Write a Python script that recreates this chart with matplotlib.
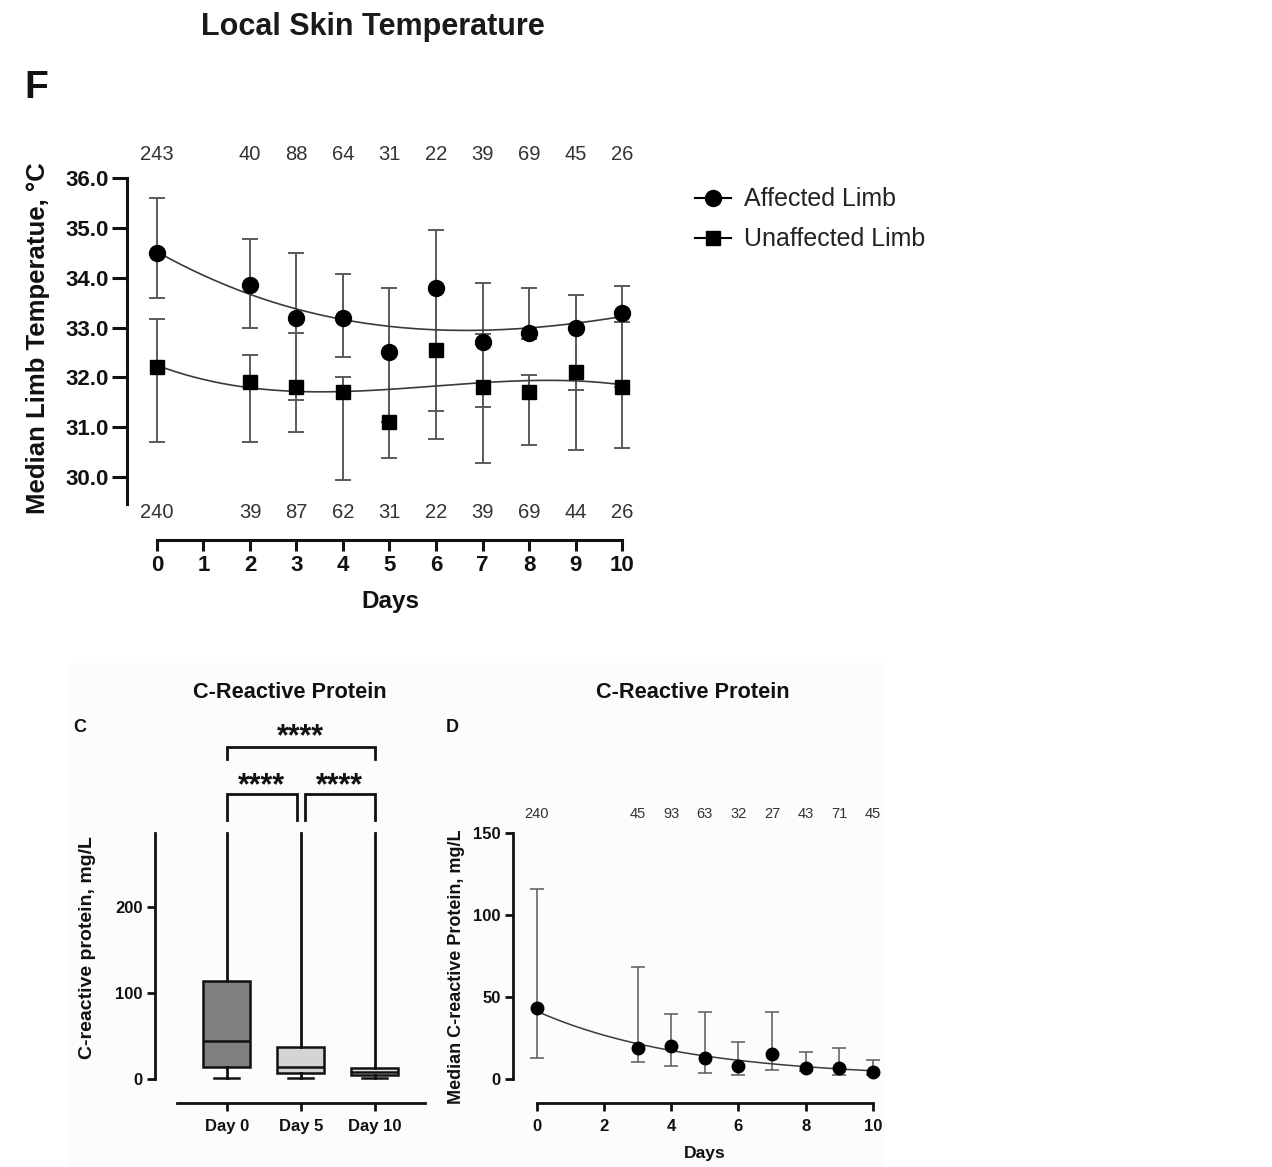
import matplotlib.pyplot as plt
import numpy as np
from matplotlib.lines import Line2D
from matplotlib.patches import Rectangle

plt.rcParams['font.family'] = ['Liberation Sans', 'DejaVu Sans']

# ---- local skin temperature (panel F) ----
temp_days = [0, 2, 3, 4, 5, 6, 7, 8, 9, 10]
affected_med = [34.5, 33.85, 33.2, 33.2, 32.5, 33.8, 32.7, 32.9, 33.0, 33.3]
affected_lo = [33.6, 33.0, 31.55, 32.4, 31.1, 31.32, 31.4, 32.76, 31.74, 31.8]
affected_hi = [35.6, 34.79, 34.49, 34.08, 33.8, 34.96, 33.9, 33.8, 33.65, 33.84]
unaffected_med = [32.2, 31.9, 31.8, 31.7, 31.1, 32.55, 31.8, 31.7, 32.1, 31.8]
unaffected_lo = [30.7, 30.7, 30.9, 29.93, 30.38, 30.77, 30.28, 30.64, 30.53, 30.57]
unaffected_hi = [33.17, 32.45, 32.9, 32.01, 32.5, 33.8, 32.88, 32.04, 33.0, 33.12]
n_affected = ['243', '40', '88', '64', '31', '22', '39', '69', '45', '26']
n_unaffected = ['240', '39', '87', '62', '31', '22', '39', '69', '44', '26']

# ---- CRP box plot (panel C) ----
crp_groups = ['Day 0', 'Day 5', 'Day 10']
crp_min = [1, 1, 1]
crp_q1 = [14, 7, 4.5]
crp_median = [44, 14, 8.5]
crp_q3 = [114, 37, 13]
crp_max = [285, 285, 285]
crp_fill = ['#808080', '#d4d4d4', '#e6e6e6']

# ---- CRP median over time (panel D) ----
crp_days = [0, 3, 4, 5, 6, 7, 8, 9, 10]
crp_med = [43.5, 19.0, 20.5, 13.0, 8.0, 15.5, 7.0, 7.0, 4.5]
crp_lo = [13.0, 10.5, 8.2, 3.8, 2.3, 5.8, 5.0, 2.7, 2.5]
crp_hi = [115.9, 68.3, 39.8, 40.9, 22.6, 40.9, 16.5, 18.9, 11.8]
crp_n = ['240', '45', '93', '63', '32', '27', '43', '71', '45']

W, H = 1272, 1167
fig = plt.figure(figsize=(W / 100, H / 100), dpi=100)


def px_axes(left, top, right, bottom):
    return fig.add_axes([left / W, 1 - bottom / H, (right - left) / W, (bottom - top) / H])


def fig_xy(x, y):
    return x / W, 1 - y / H


# faint panel background behind C and D
fig.patches.append(Rectangle(fig_xy(68, 1167), (885 - 68) / W, (1167 - 663) / H,
                             transform=fig.transFigure, facecolor='#fcfcfc',
                             edgecolor='none', zorder=-10))

ink = '#111111'
bar_col = '#5a5a5a'

# ================= panel F =================
ax = px_axes(127, 178.3, 640, 540)
ax.set_xlim(-0.645, 10.387)
ax.set_ylim(28.73, 36.0)

xs = np.linspace(0, 10, 200)
for med, lo, hi, mk, ms in [(affected_med, affected_lo, affected_hi, 'o', 11.5),
                            (unaffected_med, unaffected_lo, unaffected_hi, 's', 10.5)]:
    med = np.array(med)
    yerr = [med - np.array(lo), np.array(hi) - med]
    ax.errorbar(temp_days, med, yerr=yerr, fmt='none', ecolor=bar_col, elinewidth=1.4,
                capsize=5.5, capthick=1.4, zorder=2, clip_on=False)
    fit = np.polyfit(temp_days, med, 3)
    ax.plot(xs, np.polyval(fit, xs), color='#3a3a3a', lw=1.2, zorder=3)
    ax.plot(temp_days, med, linestyle='none', marker=mk, markersize=ms, color='black', zorder=4,
            clip_on=False)

for d, a, u in zip(temp_days, n_affected, n_unaffected):
    ax.text(d, 36.47, a, ha='center', va='center', fontsize=14.5, color='#333333', clip_on=False)
    ax.text(d, 29.28, u, ha='center', va='center', fontsize=14.5, color='#333333', clip_on=False)

for s in ['top', 'right']:
    ax.spines[s].set_visible(False)
ax.spines['left'].set_bounds(29.45, 36.0)
ax.spines['bottom'].set_bounds(0, 10)
for s in ['left', 'bottom']:
    ax.spines[s].set_linewidth(2.2)
    ax.spines[s].set_color(ink)
ax.set_yticks([30, 31, 32, 33, 34, 35, 36])
ax.set_yticklabels([f'{v:.1f}' for v in [30, 31, 32, 33, 34, 35, 36]])
ax.set_xticks(range(11))
ax.tick_params(width=2.2, color=ink, labelsize=16, labelcolor=ink)
ax.tick_params(axis='y', length=11, pad=2)
ax.tick_params(axis='x', length=8, pad=3)
for lab in ax.get_xticklabels() + ax.get_yticklabels():
    lab.set_fontweight('bold')
ax.set_xlabel('Days', fontsize=17.5, fontweight='bold', color=ink)
ax.xaxis.set_label_coords((390 - 127) / 513, (540 - 590) / 361.7)
ax.set_ylabel('Median Limb Temperatue, °C', fontsize=18.5, fontweight='bold', color=ink)
ax.yaxis.set_label_coords((50 - 127) / 513, (540 - 338) / 361.7)
ax.patch.set_alpha(0)

handles = [Line2D([], [], color='black', marker='o', markersize=11.5, lw=1.5),
           Line2D([], [], color='black', marker='s', markersize=10.5, lw=1.5)]
fig.legend(handles, ['Affected Limb', 'Unaffected Limb'], loc='upper left',
           bbox_to_anchor=fig_xy(672, 165), frameon=False, fontsize=18,
           handlelength=1.45, handletextpad=0.55, labelspacing=0.63, labelcolor='#222222')

fig.text(*fig_xy(373, 27), 'Local Skin Temperature', ha='center', va='center',
         fontsize=22, fontweight='bold', color='#1a1a1a')
fig.text(*fig_xy(36, 88), 'F', ha='center', va='center', fontsize=28, fontweight='bold',
         color='#111111')

# ================= panel C =================
axc = px_axes(155, 716.8, 425, 1102.7)
axc.set_xlim(-0.969, 2.68)
axc.set_ylim(-27.1, 420)
stats = []
for g, lo, q1, md, q3, hi in zip(crp_groups, crp_min, crp_q1, crp_median, crp_q3, crp_max):
    stats.append(dict(label=g, whislo=lo, q1=q1, med=md, q3=q3, whishi=hi))
box = axc.bxp(stats, positions=[0, 1, 2], widths=0.63, showfliers=False, patch_artist=True,
              boxprops=dict(linewidth=1.8, edgecolor=ink),
              medianprops=dict(linewidth=1.8, color=ink),
              whiskerprops=dict(linewidth=2.0, color=ink),
              capprops=dict(linewidth=1.8, color=ink), capwidths=0.34)
for patch, c in zip(box['boxes'], crp_fill):
    patch.set_facecolor(c)
for cap in box['caps'][1::2]:
    cap.set_visible(False)


def bracket(x0, x1, y_top, y_leg, label, y_text):
    axc.plot([x0, x0, x1, x1], [y_leg, y_top, y_top, y_leg], color=ink, lw=2.0,
             solid_joinstyle='miter', clip_on=False)
    axc.text((x0 + x1) / 2, y_text, label, ha='center', va='center', fontsize=22,
             fontweight='bold', color=ink, clip_on=False)


bracket(0, 2, 384.7, 370.8, '****', 396)
bracket(0, 0.946, 330, 301, '****', 340)
bracket(1.058, 2, 330, 301, '****', 340)

for s in ['top', 'right']:
    axc.spines[s].set_visible(False)
axc.spines['left'].set_bounds(0, 285)
axc.spines['bottom'].set_bounds(-0.676, 2.68)
for s in ['left', 'bottom']:
    axc.spines[s].set_linewidth(2.0)
    axc.spines[s].set_color(ink)
axc.set_yticks([0, 100, 200])
axc.set_xticks([0, 1, 2])
axc.set_xticklabels(crp_groups)
axc.tick_params(width=2.0, length=6, color=ink, labelsize=12, labelcolor=ink)
axc.tick_params(axis='x', pad=6)
axc.tick_params(axis='y', pad=3)
for lab in axc.get_xticklabels() + axc.get_yticklabels():
    lab.set_fontweight('bold')
axc.set_ylabel('C-reactive protein, mg/L', fontsize=14, fontweight='bold', color=ink)
axc.yaxis.set_label_coords((96 - 155) / 270, (1102.7 - 948) / 385.9)
axc.patch.set_alpha(0)

fig.text(*fig_xy(290, 692), 'C-Reactive Protein', ha='center', va='center', fontsize=15.7,
         fontweight='bold', color=ink)
fig.text(*fig_xy(80, 728), 'C', ha='center', va='center', fontsize=13, fontweight='bold',
         color=ink)

# ================= panel D =================
axd = px_axes(513, 833.3, 885, 1102.7)
axd.set_xlim(-0.705, 10.36)
axd.set_ylim(-14.3, 150)
crp_med_arr = np.array(crp_med)
axd.errorbar(crp_days, crp_med_arr, yerr=[crp_med_arr - np.array(crp_lo),
                                          np.array(crp_hi) - crp_med_arr],
             fmt='none', ecolor=bar_col, elinewidth=1.1, capsize=4.8, capthick=1.1, zorder=2)
dfit = np.polyfit(crp_days, np.log(crp_med_arr), 2)
xd = np.linspace(0, 10, 200)
axd.plot(xd, np.exp(np.polyval(dfit, xd)), color='#3a3a3a', lw=1.1, zorder=3)
axd.plot(crp_days, crp_med, linestyle='none', marker='o', markersize=9, color='black', zorder=4,
         clip_on=False)
for d, n in zip(crp_days, crp_n):
    axd.text(d, 161.8, n, ha='center', va='center', fontsize=10.5, color='#333333',
             clip_on=False)

for s in ['top', 'right']:
    axd.spines[s].set_visible(False)
axd.spines['left'].set_bounds(0, 150)
axd.spines['bottom'].set_bounds(0, 10)
for s in ['left', 'bottom']:
    axd.spines[s].set_linewidth(2.0)
    axd.spines[s].set_color(ink)
axd.set_yticks([0, 50, 100, 150])
axd.set_xticks([0, 2, 4, 6, 8, 10])
axd.tick_params(width=2.0, length=6, color=ink, labelsize=12, labelcolor=ink)
axd.tick_params(axis='x', pad=6)
axd.tick_params(axis='y', pad=3)
for lab in axd.get_xticklabels() + axd.get_yticklabels():
    lab.set_fontweight('bold')
axd.set_xlabel('Days', fontsize=12.6, fontweight='bold', color=ink)
axd.xaxis.set_label_coords((705 - 513) / 372, (1102.7 - 1146) / 269.4)
axd.set_ylabel('Median C-reactive Protein, mg/L', fontsize=13, fontweight='bold', color=ink)
axd.yaxis.set_label_coords((465 - 513) / 372, (1102.7 - 967) / 269.4)
axd.patch.set_alpha(0)

fig.text(*fig_xy(693, 692), 'C-Reactive Protein', ha='center', va='center', fontsize=15.7,
         fontweight='bold', color=ink)
fig.text(*fig_xy(452, 728), 'D', ha='center', va='center', fontsize=13, fontweight='bold',
         color=ink)

fig.savefig('out.png', dpi=100, facecolor='white')
